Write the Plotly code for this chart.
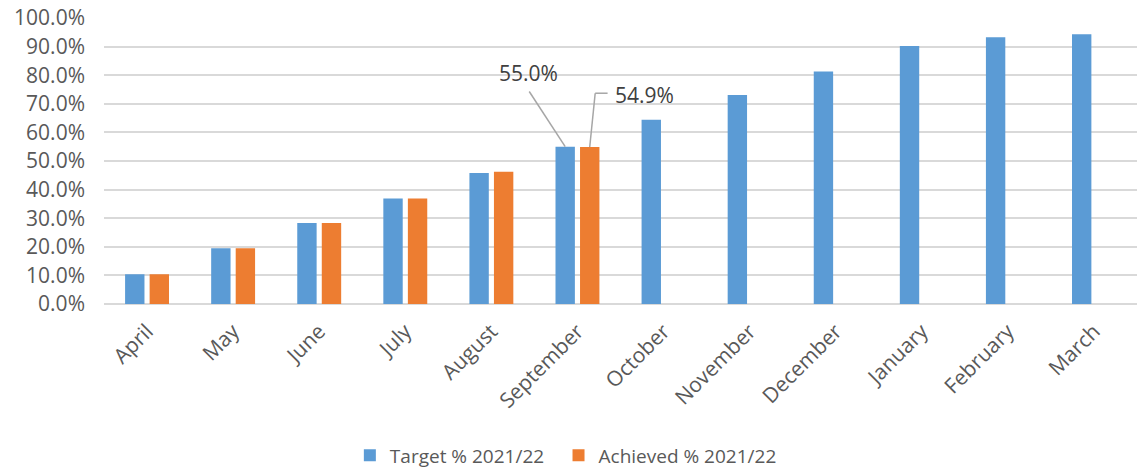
import plotly.graph_objects as go

months = ["April", "May", "June", "July", "August", "September", "October",
          "November", "December", "January", "February", "March"]
target = [10.4, 19.5, 28.3, 36.9, 45.8, 55.0, 64.4, 73.1, 81.3, 90.2, 93.3, 94.3]
achieved = [10.4, 19.5, 28.3, 36.9, 46.2, 54.9]

BLUE = "#5B9BD5"
ORANGE = "#ED7D31"
FONT = "Open Sans"

fig = go.Figure()
fig.add_trace(go.Bar(x=months, y=[v / 100 for v in target], name="Target % 2021/22",
                     marker=dict(color=BLUE, line=dict(width=0)), legend="legend"))
fig.add_trace(go.Bar(x=months[:len(achieved)], y=[v / 100 for v in achieved],
                     name="Achieved % 2021/22",
                     marker=dict(color=ORANGE, line=dict(width=0)), legend="legend2"))

sep = 5
off = 0.1425
lc = "#A6A6A6"
# leader for target label
fig.add_shape(type="line", xref="x", yref="y", x0=4.44, y0=0.743,
              x1=sep - off, y1=target[sep] / 100, line=dict(color=lc, width=1.5))
# leader for achieved label (elbow)
fig.add_shape(type="line", xref="x", yref="y", x0=5.35, y0=0.737,
              x1=5.206, y1=0.737, line=dict(color=lc, width=1.5))
fig.add_shape(type="line", xref="x", yref="y", x0=5.206, y0=0.737,
              x1=sep + off, y1=achieved[sep] / 100, line=dict(color=lc, width=1.5))

fig.add_annotation(x=4.432, y=0.806, xref="x", yref="y", text=f"{target[sep]:.1f}%",
                   showarrow=False, font=dict(family=FONT, size=21, color="#404040"))
fig.add_annotation(x=5.78, y=0.731, xref="x", yref="y", text=f"{achieved[sep]:.1f}%",
                   showarrow=False, font=dict(family=FONT, size=21, color="#404040"))

legend_font = dict(family=FONT, size=19, color="#595959")
fig.update_layout(
    width=1138, height=470,
    margin=dict(l=104, r=1, t=18, b=166, autoexpand=False),
    paper_bgcolor="white", plot_bgcolor="white",
    barmode="group", bargap=0.43, bargroupgap=0.21,
    font=dict(family=FONT, size=19, color="#595959"),
    showlegend=True,
    legend=dict(orientation="h", x=0.238, xanchor="left", y=-0.529, yanchor="middle",
                font=legend_font, itemsizing="constant"),
    legend2=dict(orientation="h", x=0.44, xanchor="left", y=-0.529, yanchor="middle",
                 font=legend_font, itemsizing="constant"),
    xaxis=dict(tickangle=-45, showgrid=False, showline=False, ticks="",
               ticklabelstandoff=10,
               tickfont=dict(family=FONT, size=21, color="#595959"), automargin=False),
    yaxis=dict(range=[0, 1.0], dtick=0.1, tickformat=".1%", showgrid=True,
               gridcolor="#D9D9D9", gridwidth=1.5, zeroline=True, zerolinecolor="#D9D9D9",
               zerolinewidth=2, showline=False, ticks="", ticklabelstandoff=18,
               tickfont=dict(family=FONT, size=21, color="#595959"), automargin=False),
)

fig.write_html("out.html", config={"displayModeBar": False},
               post_script="document.body.style.margin='0px';")
